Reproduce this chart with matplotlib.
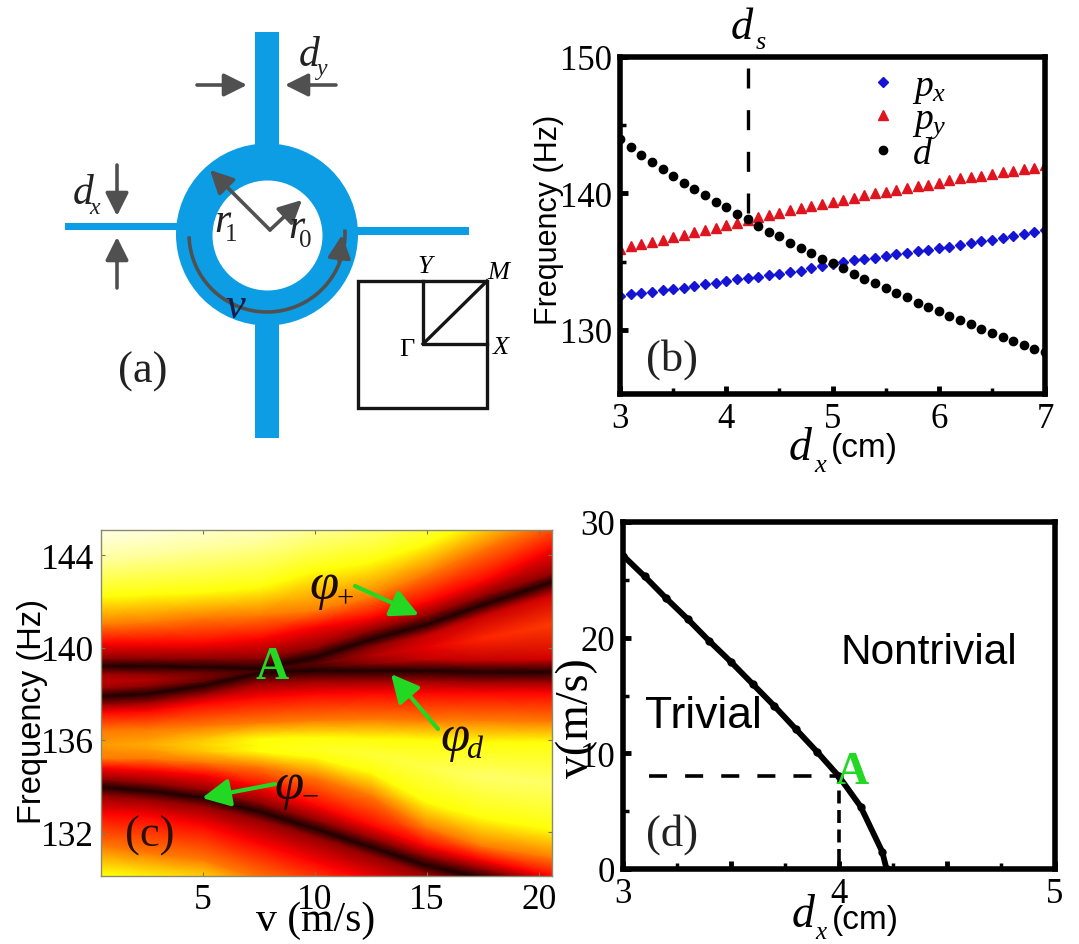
import numpy as np
import matplotlib
matplotlib.use('Agg')
import matplotlib.pyplot as plt
from matplotlib.patches import Circle, Rectangle

W, H = 1079, 945

# panel (b): band frequencies against d_x
dx_b = [round(3.0 + 0.1 * i, 1) for i in range(41)]
freq_px = [132.5, 132.6, 132.7, 132.8, 132.9, 133.0, 133.1, 133.25, 133.35, 133.45,
           133.6, 133.7, 133.8, 133.9, 134.0, 134.1, 134.25, 134.35, 134.5, 134.65,
           134.8, 134.95, 135.1, 135.2, 135.3, 135.45, 135.55, 135.65, 135.75, 135.85,
           136.0, 136.1, 136.25, 136.35, 136.5, 136.6, 136.75, 136.85, 137.0, 137.15, 137.3]
freq_py = [135.9, 136.15, 136.3, 136.45, 136.6, 136.8, 136.95, 137.15, 137.3, 137.5,
           137.65, 137.85, 138.05, 138.25, 138.4, 138.6, 138.75, 138.95, 139.1, 139.25,
           139.4, 139.55, 139.7, 139.85, 140.0, 140.1, 140.25, 140.4, 140.55, 140.65,
           140.8, 140.95, 141.1, 141.2, 141.3, 141.4, 141.55, 141.65, 141.8, 141.9, 142.05]
freq_d = [144.0, 143.4, 142.85, 142.3, 141.8, 141.3, 140.8, 140.3, 139.9, 139.4,
          139.0, 138.5, 138.1, 137.6, 137.2, 136.9, 136.4, 136.0, 135.6, 135.2,
          134.9, 134.5, 134.1, 133.75, 133.4, 133.1, 132.7, 132.4, 132.0, 131.7,
          131.4, 131.05, 130.7, 130.45, 130.1, 129.8, 129.5, 129.2, 128.9, 128.6, 128.35]
ds_x = [4.2, 4.2]
ds_y = [138.6, 150]

v_cols = [0.45, 2.5, 5, 7.5, 10, 12.5, 15, 17.5, 20.6]
freq_rows = [
    [124, 124, 124, 124, 124, 124, 124, 124, 124],
    [130.2, 130.0, 129.7, 129.0, 128.2, 127.4, 126.6, 126.0, 125.3],
    [131.4, 131.1, 130.8, 130.0, 129.2, 128.4, 127.6, 127.0, 126.3],
    [132.8, 132.7, 132.3, 131.5, 130.7, 129.9, 129.1, 128.5, 127.8],
    [133.6, 133.45, 133.15, 132.55, 131.8, 131.0, 130.2, 129.65, 128.95],
    [133.95, 133.8, 133.5, 132.9, 132.15, 131.35, 130.55, 130.0, 129.3],
    [134.3, 134.15, 133.85, 133.3, 132.55, 131.75, 130.95, 130.4, 129.7],
    [134.8, 134.7, 134.5, 134.0, 133.2, 132.3, 131.4, 130.8, 130.1],
    [135.2, 135.2, 135.05, 134.85, 134.4, 133.6, 132.2, 131.4, 130.9],
    [135.6, 135.6, 135.5, 135.5, 135.25, 134.6, 133.3, 132.6, 132.1],
    [135.8, 135.8, 135.8, 135.75, 135.6, 135.4, 134.8, 134.4, 134.1],
    [136.0, 136.0, 136.05, 136.05, 136.1, 136.05, 136.0, 135.9, 135.9],
    [136.4, 136.45, 136.6, 136.75, 136.85, 136.9, 136.85, 136.85, 136.8],
    [137.2, 137.25, 137.6, 137.85, 138.0, 138.05, 138.05, 138.05, 138.05],
    [137.55, 137.65, 138.0, 138.5, 138.6, 138.6, 138.6, 138.55, 138.55],
    [137.9, 138.0, 138.35, 138.9, 139.0, 139.0, 139.0, 138.95, 138.95],
    [138.25, 138.35, 138.55, 138.95, 139.15, 139.3, 139.5, 139.45, 139.5],
    [138.55, 138.6, 138.75, 139.0, 139.3, 139.65, 140.0, 140.4, 141.0],
    [138.85, 138.85, 138.95, 139.05, 139.45, 140.05, 140.55, 141.4, 142.3],
    [139.2, 139.2, 139.15, 139.1, 139.6, 140.35, 141.0, 141.85, 142.85],
    [139.55, 139.55, 139.55, 139.55, 140.0, 140.75, 141.4, 142.25, 143.2],
    [140.2, 140.2, 140.2, 140.4, 140.9, 141.3, 142.0, 142.9, 144.3],
    [141.0, 141.1, 141.3, 141.4, 141.6, 142.2, 143.2, 144.3, 145.6],
    [142.2, 142.3, 142.4, 142.6, 143.3, 143.7, 144.5, 145.6, 147.0],
    [143.8, 144.0, 144.3, 144.6, 145.2, 145.7, 146.5, 147.5, 149.0],
    [145.5, 145.7, 146.0, 146.3, 147.0, 147.5, 148.0, 149.5, 151.0],
]
level_rows = [
    [.75] * 9, [.75] * 9, [.55] * 9, [.37] * 9, [.2] * 9, [.03] * 9, [.2] * 9, [.37] * 9, [.55] * 9,
    [.58, .6, .66, .75, .75, .75, .75, .75, .75],
    [.6, .62, .68, .75, .78, .8, .82, .85, .85],
    [.58, .6, .66, .75, .75, .75, .75, .75, .75],
    [.55] * 9, [.37] * 9, [.2] * 9, [.03] * 9,
    [.22, .2, .14, .05, .08, .18, .28, .28, .3],
    [.27, .25, .17, .08, .12, .25, .33, .42, .45],
    [.22, .2, .14, .05, .08, .18, .28, .28, .3],
    [.03] * 9, [.2] * 9, [.37] * 9, [.55] * 9, [.75] * 9, [.9] * 9, [1.0] * 9,
]

# panel (d): phase boundary
dx_d = [3.0, 3.1, 3.2, 3.3, 3.4, 3.5, 3.6, 3.7, 3.8, 3.9, 4.0, 4.1, 4.2, 4.22]
v_d = [27.1, 25.3, 23.4, 21.6, 19.7, 17.9, 16.0, 14.1, 12.1, 10.1, 8.0, 5.4, 1.5, 0.0]
point_a = (4.0, 8.0)

BLUE = '#0C9DE4'
GREY = '#505050'
GREEN = '#22D822'
DARK = '#222222'
SERIF = 'Liberation Serif'
SANS = 'Liberation Sans'

plt.rcParams['font.family'] = SERIF
plt.rcParams['mathtext.fontset'] = 'custom'
plt.rcParams['mathtext.it'] = 'Liberation Serif:italic'
plt.rcParams['mathtext.rm'] = 'Liberation Serif'

fig = plt.figure(figsize=(W / 100, H / 100), dpi=100)


def axes_px(left, top, right, bottom):
    return fig.add_axes([left / W, 1 - bottom / H, (right - left) / W, (bottom - top) / H])


def thick_frame(ax):
    for s in ax.spines.values():
        s.set_linewidth(4)
    ax.tick_params(which='major', direction='in', length=6, width=3.5, labelsize=25, pad=6)
    ax.tick_params(which='minor', direction='in', length=4, width=2.5)


# overlay in pixel coordinates for the drawing and all free labels
ov = fig.add_axes([0, 0, 1, 1], zorder=10)
ov.set_xlim(0, W)
ov.set_ylim(H, 0)
ov.axis('off')
ov.patch.set_alpha(0)


def txt(x, y, s, size=23, family=SERIF, style='normal', **kw):
    ov.text(x, y, s, fontsize=size, family=family, style=style, ha='center', va='center', **kw)


def arrow(x0, y0, x1, y1, color=GREY, lw=2.6, head=20):
    ov.annotate('', xy=(x1, y1), xytext=(x0, y0),
                arrowprops=dict(arrowstyle='-|>,head_length=0.7,head_width=0.35', color=color, lw=lw,
                                mutation_scale=head, shrinkA=0, shrinkB=0))


# panel (a)
ov.add_patch(Rectangle((255, 33), 24, 406, color=BLUE, lw=0))
ov.add_patch(Rectangle((65, 224), 115, 7, color=BLUE, lw=0))
ov.add_patch(Rectangle((355, 228), 114, 8, color=BLUE, lw=0))
ov.add_patch(Circle((267, 235.5), 91, color=BLUE, lw=0))
ov.add_patch(Circle((267.5, 236.5), 55, color='white', lw=0))
arrow(197, 86, 247, 86)
arrow(336, 86, 285, 86)
arrow(117, 166, 117, 217)
arrow(117, 289, 117, 238)
arrow(270, 231, 210, 171)
arrow(270, 231, 302, 201)
arc_t = np.radians(np.linspace(183, 362, 60))
ov.plot(267 + 78 * np.cos(arc_t), 235 - 78 * np.sin(arc_t), color=GREY, lw=2.6)
arrow(339, 262, 342, 236)

ov.add_patch(Rectangle((358, 282), 129, 127, fill=False, ec='#151515', lw=2.4))
ov.plot([423, 423, 487], [282, 345, 345], color='#151515', lw=2.4)
ov.plot([423, 487], [345, 282], color='#151515', lw=2.4)
txt(425, 267, 'Y', 19, style='italic')
txt(498, 273, 'M', 19, style='italic')
txt(407, 350, '\u0393', 19)
txt(501, 348, 'X', 19, style='italic')

txt(309, 56, 'd', 30, style='italic', color=DARK)
txt(322, 69, 'y', 17, style='italic', color=DARK)
txt(83, 194, 'd', 30, style='italic', color=DARK)
txt(95, 208, 'x', 17, style='italic', color=DARK)
txt(222, 222, 'r', 30, style='italic', color=DARK)
txt(231, 235, '1', 18, color=DARK)
txt(296, 228, 'r', 30, style='italic', color=DARK)
txt(305, 241, '0', 18, color=DARK)
txt(235, 307, 'v', 32, style='italic', color='#10204A')
txt(143, 372, '(a)', 32, color=DARK)

# panel (b)
ax_b = axes_px(620, 58, 1045, 395)
ax_b.plot(dx_b, freq_px, 'D', color='#1414D2', ms=5.5, label='$p_x$')
ax_b.plot(dx_b, freq_py, '^', color='#E0141E', ms=7.5, label='$p_y$')
ax_b.plot(dx_b, freq_d, 'o', color='black', ms=6, label='$d$')
ax_b.plot(ds_x, ds_y, color='black', lw=2.4, dashes=(6, 6.5))
ax_b.set_xlim(3, 7)
ax_b.set_ylim(125.3, 150)
ax_b.set_xticks([3, 4, 5, 6, 7])
ax_b.set_xticks([3.5, 4.5, 5.5, 6.5], minor=True)
ax_b.set_yticks([130, 140, 150])
ax_b.set_yticks([135, 145], minor=True)
thick_frame(ax_b)
ax_b.legend(loc='upper left', bbox_to_anchor=(0.58, 0.965), frameon=False, fontsize=27,
            handletextpad=0.3, labelspacing=-0.1, handlelength=0.9, borderpad=0, borderaxespad=0)
txt(549, 220, 'Frequency (Hz)', 22, family=SANS, rotation=90)
txt(800, 449, 'd', 33, style='italic')
txt(820, 466, 'x', 19, style='italic')
txt(864, 449, '(cm)', 24, family=SANS)
txt(742, 28, 'd', 32, style='italic')
txt(761, 43, 's', 19, style='italic')
txt(672, 360, '(b)', 32, color=DARK)

# panel (c)
ax_c = axes_px(101, 531, 552, 877)
vv = np.tile(v_cols, (len(freq_rows), 1))
ax_c.pcolormesh(vv, np.array(freq_rows), np.array(level_rows), shading='gouraud',
                cmap='hot', vmin=0, vmax=1)
ax_c.set_xlim(0.45, 20.58)
ax_c.set_ylim(130.1, 145.1)
ax_c.set_xticks([5, 10, 15, 20])
ax_c.set_yticks([132, 136, 140, 144])
ax_c.tick_params(direction='in', length=3, width=0.8, color='#777755', labelsize=25.5, pad=5,
                 top=True, right=True)
for s in ax_c.spines.values():
    s.set_linewidth(1)
    s.set_color('#8A8A70')
txt(33, 712, 'Frequency (Hz)', 23.5, family=SANS, rotation=90)
txt(316, 921, 'v (m/s)', 30)
txt(150, 836, '(c)', 32, color='#2A1008')
txt(272, 668, 'A', 33, color=GREEN, weight='bold')
arrow(355, 587, 419, 616, color=GREEN, lw=3, head=24)
arrow(438, 730, 391, 675, color=GREEN, lw=3, head=24)
arrow(275, 785, 202, 799, color=GREEN, lw=3, head=24)
txt(324, 586, '\u03c6', 38, style='italic', color='#1A0A05')
txt(345, 600, '+', 22, color='#1A0A05')
txt(455, 738, '\u03c6', 38, style='italic', color='#1A0A05')
txt(474, 751, 'd', 23, style='italic', color='#1A0A05')
txt(289, 786, '\u03c6', 38, style='italic', color='#1A0A05')
txt(310, 798, '\u2212', 22, color='#1A0A05')

# panel (d)
ax_d = axes_px(623, 523, 1055, 870)
ax_d.plot(dx_d, v_d, '-o', color='black', lw=4.2, ms=5)
ax_d.plot([3.12, point_a[0]], [point_a[1], point_a[1]], color='black', lw=2.6, dashes=(5, 5))
ax_d.plot([point_a[0], point_a[0]], [0.6, point_a[1]], color='black', lw=2.6, dashes=(3.6, 1.8))
ax_d.set_xlim(3, 5)
ax_d.set_ylim(0, 30)
ax_d.set_xticks([3, 3.5, 4, 4.5, 5])
ax_d.set_xticklabels(['3', '', '4', '', '5'])
ax_d.set_xticks([3.25, 3.75, 4.25, 4.75], minor=True)
ax_d.set_yticks([0, 10, 20, 30])
ax_d.set_yticks([5, 15, 25], minor=True)
thick_frame(ax_d)
txt(703, 716, 'Trivial', 32, family=SANS)
txt(929, 653, 'Nontrivial', 30.5, family=SANS)
txt(852, 773, 'A', 33, color=GREEN, weight='bold')
txt(577, 718, 'v(m/s)', 33, rotation=90)
txt(803, 916, 'd', 33, style='italic')
txt(821, 933, 'x', 18, style='italic')
txt(865, 921, '(cm)', 24, family=SANS)
txt(672, 835, '(d)', 32, color=DARK)

fig.savefig('out.png', dpi=100)
